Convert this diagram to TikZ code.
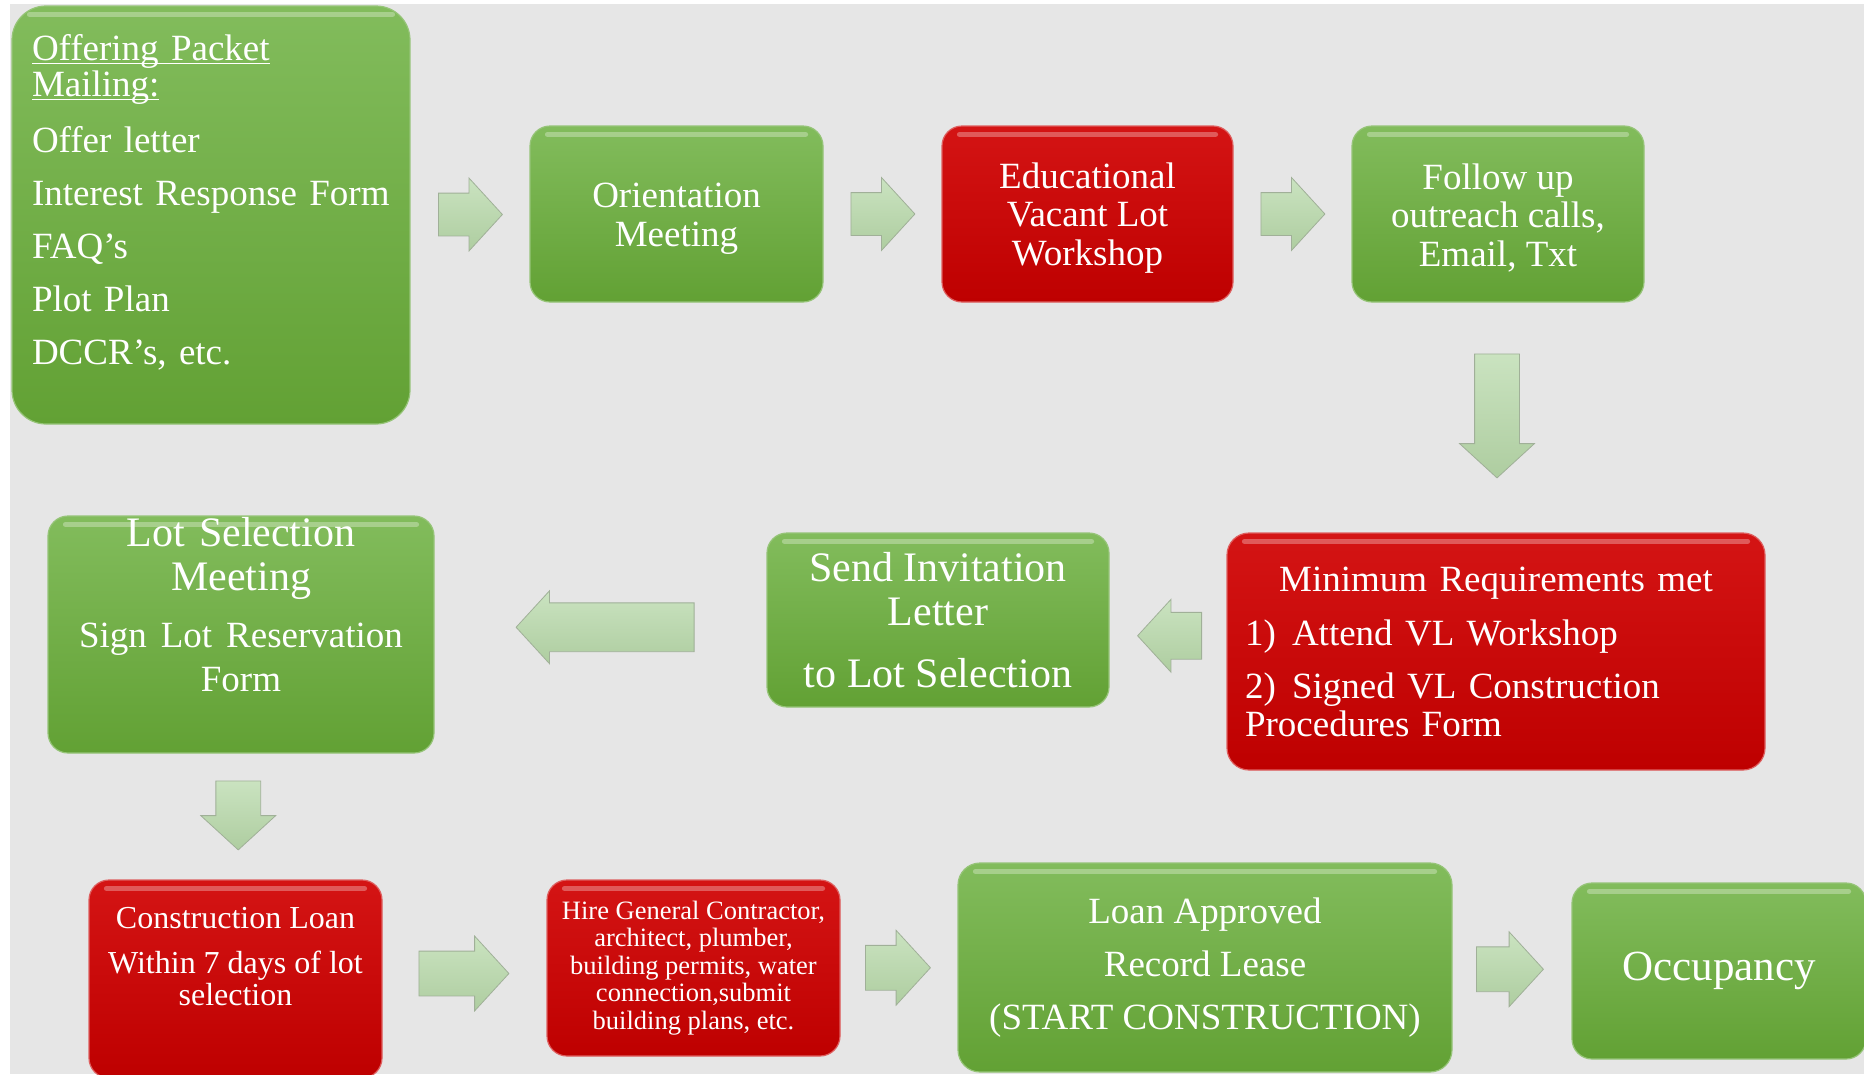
\documentclass[tikz,border=0pt]{standalone}
\usepackage{amsmath}
\usepackage{fontspec}
\setmainfont{Liberation Serif}
\usetikzlibrary{arrows,shapes,shapes.arrows,positioning,calc}

\definecolor{bgGray}{RGB}{230,230,230}
\definecolor{grnTop}{RGB}{130,188,92}
\definecolor{grnBot}{RGB}{98,161,52}
\definecolor{grnEdge}{RGB}{150,196,120}
\definecolor{redTop}{RGB}{212,20,20}
\definecolor{redBot}{RGB}{190,0,0}
\definecolor{redEdge}{RGB}{222,95,95}
\definecolor{arrTop}{RGB}{202,227,192}
\definecolor{arrBot}{RGB}{174,205,160}
\definecolor{arrEdge}{RGB}{160,176,152}

\newcommand{\sz}[2]{\fontsize{#1}{#2}\selectfont}
\newcommand{\lowby}[1]{\rule[-#1pt]{0pt}{#1pt}}
\newcommand{\topgap}[1]{\rule{0pt}{#1pt}}
\newcommand{\numitem}[1]{\makebox[47pt][l]{#1}}
\newcommand{\uln}[1]{\underline{\smash[b]{#1}}}

\tikzset{
	box/.style={rounded corners=20pt, inner sep=0pt, align=center, text=white, line width=1.2pt},
	greenbox/.style={box, draw=grnEdge, top color=grnTop, bottom color=grnBot},
	redbox/.style={box, draw=redEdge, top color=redTop, bottom color=redBot},
	blockarrow/.style={single arrow, draw=arrEdge, line width=0.8pt, top color=arrTop, bottom color=arrBot,
		anchor=tail, inner xsep=0pt, inner ysep=21pt, text height=0pt, text depth=0pt, minimum width=0pt,
		single arrow head extend=15pt, single arrow tip angle=95},
	downarrow/.style={blockarrow, shape border rotate=270, inner xsep=22pt, inner ysep=0pt},
	leftarrow/.style={blockarrow, shape border rotate=180},
}

\begin{document}
\begin{tikzpicture}[x=1pt,y=-1pt]
	\useasboundingbox (0,0) rectangle (1864,1074);
	\fill[bgGray] (10,4) rectangle (1864,1074);

	% first row
	\node[greenbox, rounded corners=34pt, minimum width=398pt, minimum height=418pt, text width=358pt, align=left, font=\sz{37}{36}] (offer) at (211,215)
		{\uln{Offering Packet}\\ \uln{Mailing:}\\[20pt] Offer letter\\[17pt] Interest Response Form\\[17pt] FAQ’s\\[17pt] Plot Plan\\[17pt] DCCR’s, etc.\lowby{32}};
	\node[greenbox, minimum width=293pt, minimum height=176pt, font=\sz{37}{39}] (orient) at (676.5,214) {\topgap{33}Orientation\\ Meeting};
	\node[redbox, minimum width=291pt, minimum height=176pt, font=\sz{37}{38.5}] (educ) at (1087.5,214) {\topgap{33}Educational\\ Vacant Lot\\ Workshop};
	\node[greenbox, minimum width=292pt, minimum height=176pt, font=\sz{37}{38.5}] (follow) at (1498,214) {\topgap{33}Follow up\\ outreach calls,\\ Email, Txt};

	% second row
	\node[redbox, rounded corners=22pt, minimum width=538pt, minimum height=237pt, text width=502pt, align=left, font=\sz{37}{38}] (minreq) at (1496,651.5)
		{\hfill Minimum Requirements met\hfill\null\\[16pt] \numitem{1)}Attend VL Workshop\\[15pt] \numitem{2)}Signed VL Construction\\ Procedures Form};
	\node[greenbox, minimum width=342pt, minimum height=174pt, font=\sz{42}{44}] (sendinv) at (938,620) {Send Invitation\\ Letter\\[18pt] to Lot Selection};
	\node[greenbox, minimum width=386pt, minimum height=237pt, text width=360pt, font=\sz{42}{44}] (lotsel) at (241,634.5)
		{Lot Selection\\ Meeting\par\vspace{19pt}\sz{37}{38}Sign Lot Reservation\\ Form\lowby{61}};

	% third row
	\node[redbox, minimum width=293pt, minimum height=198pt, font=\sz{32}{32}] (constr) at (235.5,979) {Construction Loan\\[13pt] Within 7 days of lot\\ selection\lowby{46}};
	\node[redbox, minimum width=293pt, minimum height=176pt, font=\sz{26.5}{27.4}] (hire) at (693.5,968)
		{Hire General Contractor,\\ architect, plumber,\\ building permits, water\\ connection,submit\\ building plans, etc.};
	\node[greenbox, rounded corners=22pt, minimum width=494pt, minimum height=209pt, font=\sz{37}{38}] (loan) at (1205,967.5) {Loan Approved\\[15pt] Record Lease\\[15pt] (START CONSTRUCTION)};
	\node[greenbox, minimum width=294pt, minimum height=176pt, font=\sz{43}{44}] (occup) at (1719,971) {Occupancy};

	% glossy top edge
	\foreach \b in {offer,orient,educ,follow,minreq,sendinv,lotsel,constr,hire,loan,occup}
		\draw[white, opacity=.3, line width=5pt, line cap=round] ([xshift=18pt,yshift=-9pt]\b.north west) -- ([xshift=-18pt,yshift=-9pt]\b.north east);

	% block arrows
	\node[blockarrow, minimum height=64pt, xshift=-32pt] (a1) at ($(offer.east)!.5!(orient.west)$) {};
	\node[blockarrow, minimum height=64pt, xshift=-32pt] (a2) at ($(orient.east)!.5!(educ.west)$) {};
	\node[blockarrow, minimum height=64pt, xshift=-32pt] (a3) at ($(educ.east)!.5!(follow.west)$) {};
	\node[downarrow, minimum height=124pt, yshift=64pt] (a4) at ($(follow.south)!.5!(minreq.north)$) {};
	\node[leftarrow, minimum height=64pt, inner ysep=23pt, single arrow head extend=13pt, xshift=34pt] (a5) at ($(minreq.west)!.5!(sendinv.east)$) {};
	\node[leftarrow, minimum height=178pt, inner ysep=24pt, single arrow head extend=12pt, xshift=94pt] (a6) at ($(sendinv.west)!.5!(lotsel.east)$) {};
	\node[downarrow, minimum height=69pt, yshift=36pt] (a7) at ($(lotsel.south)!.5!(constr.north)$) {};
	\node[blockarrow, minimum height=90pt, inner ysep=22pt, xshift=-46pt] (a8) at ($(constr.east)!.5!(hire.west)$) {};
	\node[blockarrow, minimum height=65pt, inner ysep=22pt, xshift=-34pt] (a9) at ($(hire.east)!.5!(loan.west)$) {};
	\node[blockarrow, minimum height=67pt, inner ysep=22pt, xshift=-36pt] (a10) at ($(loan.east)!.5!(occup.west)$) {};
\end{tikzpicture}
\end{document}
